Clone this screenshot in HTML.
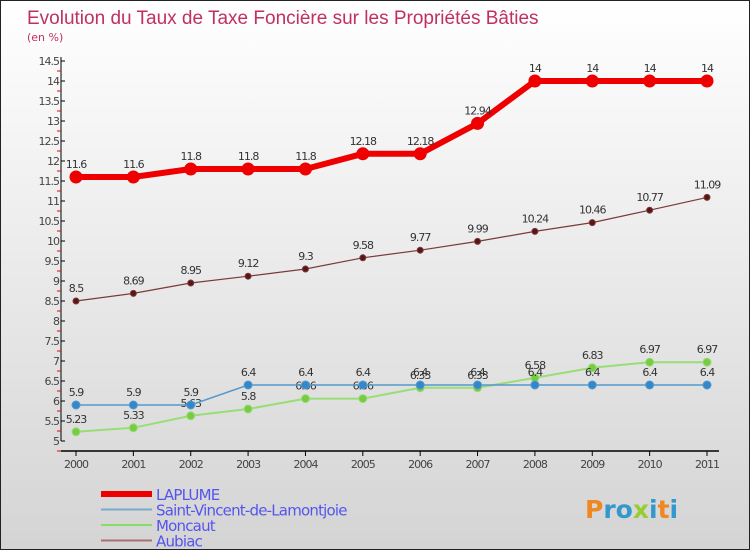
<!DOCTYPE html>
<html><head><meta charset="utf-8"><style>
body{margin:0}
#c{width:748px;height:548px;border:1px solid #222;background:linear-gradient(#ffffff,#d4d4d4);position:relative;font-family:"DejaVu Sans","Liberation Sans",sans-serif;overflow:hidden}
svg{position:absolute;left:0;top:0}
</style></head><body>
<div id="c">
<svg id="s" width="750" height="550">
<text x="26" y="23" font-size="19" fill="#c03060" font-family="Liberation Sans, sans-serif">Evolution du Taux de Taxe Foncière sur les Propriétés Bâties</text>
<text x="26" y="40" font-size="11" fill="#c03060">(en %)</text>
</svg>
</div>
<script>
const years=[2000,2001,2002,2003,2004,2005,2006,2007,2008,2009,2010,2011];
const laplume=[11.6,11.6,11.8,11.8,11.8,12.18,12.18,12.94,14,14,14,14];
const stVincent=[5.9,5.9,5.9,6.4,6.4,6.4,6.4,6.4,6.4,6.4,6.4,6.4];
const moncaut=[5.23,5.33,5.63,5.8,6.06,6.06,6.33,6.33,6.58,6.83,6.97,6.97];
const aubiac=[8.5,8.69,8.95,9.12,9.3,9.58,9.77,9.99,10.24,10.46,10.77,11.09];
const yTicks=[5,5.5,6,6.5,7,7.5,8,8.5,9,9.5,10,10.5,11,11.5,12,12.5,13,13.5,14,14.5];
const s=document.getElementById('s');const NS='http://www.w3.org/2000/svg';
const X=i=>75+i*(706-75)/11, Y=v=>440-(v-5)*40;
function el(t,a,p){const e=document.createElementNS(NS,t);for(const k in a)e.setAttribute(k,a[k]);(p||s).appendChild(e);return e;}
let ax=el('line',{x1:60,y1:56,x2:60,y2:440,stroke:'#000'});


let xa=el('line',{x1:60,y1:450,x2:718,y2:450,stroke:'#000','stroke-width':1.5});


yTicks.forEach(v=>{el('line',{x1:60,x2:64,y1:Y(v),y2:Y(v),stroke:'#000'});
 el('line',{x1:56,x2:60,y1:Y(v)+10,y2:Y(v)+10,stroke:'#e00'});
 const t=el('text',{x:58,y:Y(v)+4,'font-size':11,'text-anchor':'end',fill:'#444','letter-spacing':'-1'});t.textContent=v;
 
 });
years.forEach((y,i)=>{el('line',{x1:X(i),x2:X(i),y1:450,y2:455,stroke:'#000'});
 const t=el('text',{x:X(i),y:467,'font-size':11,'text-anchor':'middle',fill:'#444','letter-spacing':'-1'});t.textContent=y;
 
 });
function series(d,col,w,r,dot,name){
 const p=el('polyline',{points:d.map((v,i)=>X(i)+','+Y(v)).join(' '),fill:'none',stroke:col,'stroke-width':w});
 
 
 d.forEach((v,i)=>{const c=el('circle',{cx:X(i),cy:Y(v),r:r,fill:dot,stroke:col});
  
  
  const t=el('text',{x:X(i),y:Y(v)-9,'font-size':11,'text-anchor':'middle',fill:'#333','letter-spacing':'-1'});t.textContent=v;
  
  });
}
series(aubiac,'#7a3a3a',1.2,3,'#5a1515','aubiac');
series(moncaut,'#99dd77',2,4,'#77cc44','moncaut');
series(stVincent,'#5599cc',1.5,4,'#3388cc','st-vincent');
series(laplume,'#ee0000',6,6,'#ee0000','laplume');
const leg=[['LAPLUME','#ee0000',6],['Saint-Vincent-de-Lamontjoie','#77aacc',2],['Moncaut','#88dd66',2],['Aubiac','#aa7070',2]];
leg.forEach((l,i)=>{const y=493+i*15.5;
 const ln=el('line',{x1:100,x2:151,y1:y,y2:y,stroke:l[1],'stroke-width':l[2]});
 
 
 const t=el('text',{x:155,y:y+6,'font-size':15,fill:'#5555ee','letter-spacing':'-0.8'});t.textContent=l[0];
 
 });
const lg=el('text',{x:584,y:517,'font-size':25,'font-weight':'bold',fill:'#3399cc'});
lg.innerHTML='<tspan fill="#ee8822">P</tspan>ro<tspan fill="#99cc33">x</tspan>i<tspan fill="#ee8822">t</tspan>i';


</script>
</body></html>
